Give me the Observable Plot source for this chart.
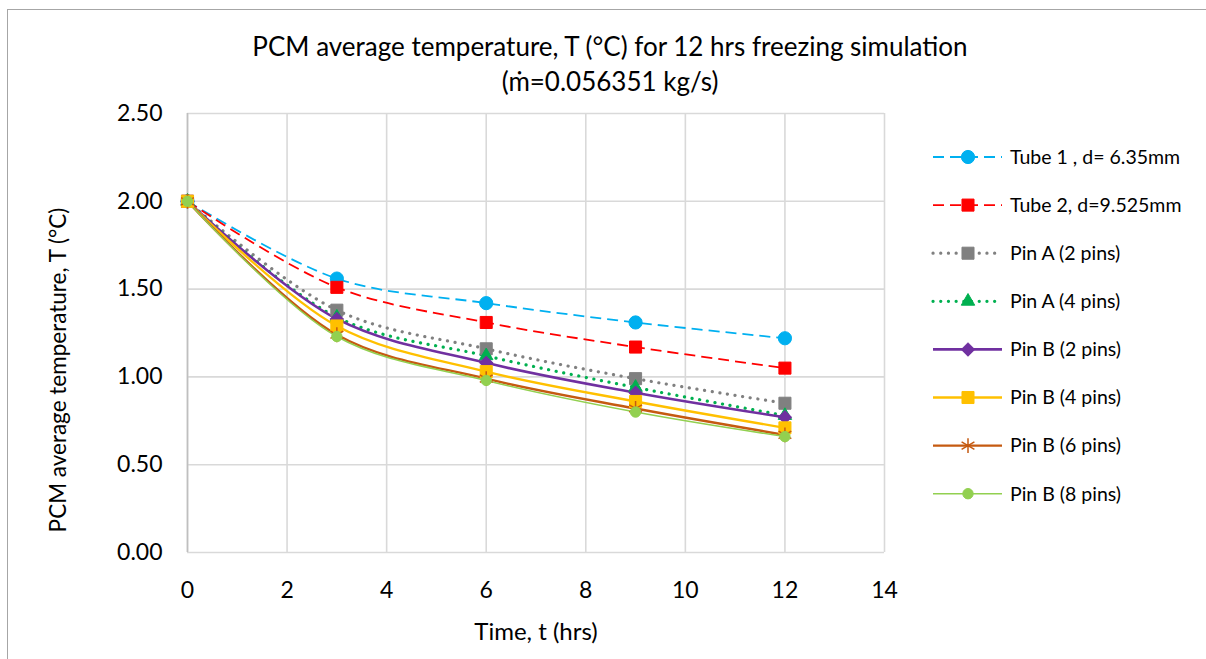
<!DOCTYPE html>
<html>
<head>
<meta charset="utf-8">
<script src="https://cdn.jsdelivr.net/npm/d3@7"></script>
<script src="https://cdn.jsdelivr.net/npm/@observablehq/plot@0.6"></script>
<style>
  html, body { margin: 0; padding: 0; background: #fff; }
  #wrap { position: relative; width: 1206px; height: 659px; font-family: Lato, "Open Sans", sans-serif; color: #000; overflow: hidden; }
  #wrap > * { position: absolute; }
  .title { left: 0; width: 1220px; text-align: center; font-size: 26px; line-height: 35px; top: 29px; }
  .ylab { left: 57px; top: 370px; transform: translate(-50%, -50%) rotate(-90deg); white-space: nowrap; font-size: 22.5px; }
  .xlab { left: 536px; top: 630px; transform: translate(-50%, -50%); white-space: nowrap; font-size: 24px; }
  .frameTop { left: 7px; top: 9px; width: 1199px; height: 0; border-top: 1.5px solid #a6a6a6; }
  .frameLeft { left: 7px; top: 9px; width: 0; height: 650px; border-left: 1.5px solid #a6a6a6; }
</style>
</head>
<body>
<div id="wrap"></div>
<script>
// ---- data ----
const time = [0, 3, 6, 9, 12];
const seriesNames = [
  "Tube 1 , d= 6.35mm",
  "Tube 2, d=9.525mm",
  "Pin A (2 pins)",
  "Pin A (4 pins)",
  "Pin B (2 pins)",
  "Pin B (4 pins)",
  "Pin B (6 pins)",
  "Pin B (8 pins)"
];
const tube1 = [2.00, 1.56, 1.42, 1.31, 1.22];
const tube2 = [2.00, 1.51, 1.31, 1.17, 1.05];
const pinA2 = [2.00, 1.38, 1.16, 0.99, 0.85];
const pinA4 = [2.00, 1.34, 1.12, 0.94, 0.78];
const pinB2 = [2.00, 1.33, 1.08, 0.91, 0.77];
const pinB4 = [2.00, 1.29, 1.03, 0.86, 0.71];
const pinB6 = [2.00, 1.24, 0.99, 0.82, 0.67];
const pinB8 = [2.00, 1.23, 0.98, 0.80, 0.66];
const xTicks = [0, 2, 4, 6, 8, 10, 12, 14];
const yTicks = [0, 0.5, 1.0, 1.5, 2.0, 2.5];
const titleLines = ["PCM average temperature, T (°C) for 12 hrs freezing simulation", "(ṁ=0.056351 kg/s)"];
const xLabel = "Time, t (hrs)";
const yLabel = "PCM average temperature, T (°C)";

// ---- styles (separate from data) ----
const values = [tube1, tube2, pinA2, pinA4, pinB2, pinB4, pinB6, pinB8];
const styles = [
  {color: "#00b0f0", width: 1.8, dash: "11,6", cap: "butt", symbol: "circle", r: 6.6, rot: 0},
  {color: "#ff0000", width: 1.8, dash: "11,6", cap: "butt", symbol: "square", r: 6.8, rot: 0},
  {color: "#808080", width: 3.2, dash: "0.1,7.6", cap: "round", symbol: "square", r: 6.8, rot: 0},
  {color: "#00b050", width: 3.2, dash: "0.1,7.6", cap: "round", symbol: "triangle", r: 5.0, rot: 0},
  {color: "#7030a0", width: 2.6, dash: null, cap: "butt", symbol: "square", r: 5.2, rot: 45},
  {color: "#ffc000", width: 2.4, dash: null, cap: "butt", symbol: "square", r: 6.8, rot: 0},
  {color: "#c55a11", width: 2.4, dash: null, cap: "butt", symbol: "asterisk", r: 7.0, rot: 0},
  {color: "#92d050", width: 1.5, dash: null, cap: "butt", symbol: "circle", r: 5.2, rot: 0}
];

const rows = [];
seriesNames.forEach((name, i) => {
  time.forEach((t, j) => rows.push({series: name, idx: i, t, v: values[i][j]}));
});

const lineMarks = seriesNames.map((name, i) => Plot.line(rows.filter(d => d.idx === i), {
  x: "t", y: "v", curve: "catmull-rom",
  stroke: styles[i].color, strokeWidth: styles[i].width,
  strokeDasharray: styles[i].dash, strokeLinecap: styles[i].cap
}));
const dotMarks = seriesNames.map((name, i) => Plot.dot(rows.filter(d => d.idx === i), {
  x: "t", y: "v", symbol: () => styles[i].symbol, r: styles[i].r, rotate: styles[i].rot,
  fill: styles[i].symbol === "asterisk" ? "none" : styles[i].color,
  stroke: styles[i].color, strokeWidth: styles[i].symbol === "asterisk" ? 1.5 : 1
}));

const chart = Plot.plot({
  width: 1206,
  height: 659,
  marginLeft: 187,
  marginRight: 322,
  marginTop: 113,
  marginBottom: 107,
  style: {fontFamily: "Lato, 'Open Sans', sans-serif", fontSize: "23px", color: "#000", background: "transparent"},
  x: {domain: [0, 14]},
  y: {domain: [0, 2.5]},
  symbol: {type: "identity"},
  marks: [
    Plot.gridX(xTicks, {stroke: "#d9d9d9", strokeOpacity: 1, strokeWidth: 1.6}),
    Plot.gridY(yTicks, {stroke: "#d9d9d9", strokeOpacity: 1, strokeWidth: 1.6}),
    Plot.ruleX([0], {stroke: "#bfbfbf", strokeWidth: 1.6}),
    Plot.axisX(xTicks, {tickSize: 0, tickPadding: 29, label: null, fontSize: 23}),
    Plot.axisY(yTicks, {tickSize: 0, tickPadding: 25, label: null, tickFormat: d3.format(".2f"), fontSize: 23}),
    ...lineMarks,
    ...dotMarks
  ]
});

const wrap = document.getElementById("wrap");
chart.style.left = "0px";
chart.style.top = "0px";
wrap.appendChild(chart);

const ft = document.createElement("div"); ft.className = "frameTop"; wrap.appendChild(ft);
const fl = document.createElement("div"); fl.className = "frameLeft"; wrap.appendChild(fl);

const title = document.createElement("div");
title.className = "title";
title.innerHTML = titleLines.map(s => `<div>${s}</div>`).join("");
wrap.appendChild(title);

const yl = document.createElement("div"); yl.className = "ylab"; yl.textContent = yLabel; wrap.appendChild(yl);
const xl = document.createElement("div"); xl.className = "xlab"; xl.textContent = xLabel; wrap.appendChild(xl);

// ---- legend ----
const symMap = {circle: d3.symbolCircle, square: d3.symbolSquare, triangle: d3.symbolTriangle, diamond: d3.symbolDiamond, asterisk: d3.symbolAsterisk};
const leg = d3.create("svg").attr("width", 280).attr("height", 400)
  .style("left", "926px").style("top", "133px").style("overflow", "visible");
seriesNames.forEach((name, i) => {
  const s = styles[i];
  const g = leg.append("g").attr("transform", `translate(0,${24 + i * 48.1})`);
  g.append("line").attr("x1", 7).attr("x2", 76).attr("y1", 0).attr("y2", 0)
    .attr("stroke", s.color).attr("stroke-width", s.width)
    .attr("stroke-dasharray", s.dash).attr("stroke-linecap", s.cap);
  g.append("path").attr("transform", `translate(42,0) rotate(${s.rot})`)
    .attr("d", d3.symbol(symMap[s.symbol], Math.PI * s.r * s.r)())
    .attr("fill", s.symbol === "asterisk" ? "none" : s.color)
    .attr("stroke", s.color).attr("stroke-width", s.symbol === "asterisk" ? 1.5 : 1);
  g.append("text").attr("x", 84).attr("y", 0).attr("dy", "0.35em")
    .attr("font-family", "Lato, 'Open Sans', sans-serif").attr("font-size", 19.5)
    .attr("fill", "#000").text(name);
});
wrap.appendChild(leg.node());
</script>
</body>
</html>
